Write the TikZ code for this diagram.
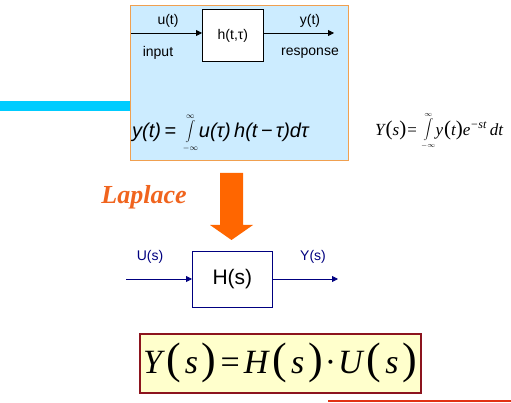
\documentclass[tikz,border=0pt]{standalone}
\usepackage{fontspec}
\setmainfont{Liberation Sans}
\newfontfamily\tnr{Liberation Serif}
\usetikzlibrary{arrows.meta}
\definecolor{panelblue}{RGB}{204,236,255}
\definecolor{panelorange}{RGB}{240,160,80}
\definecolor{barcyan}{RGB}{0,204,255}
\definecolor{lapor}{RGB}{240,100,30}
\definecolor{arrowor}{RGB}{255,102,0}
\definecolor{navyline}{RGB}{0,0,128}
\definecolor{boxyellow}{RGB}{255,255,204}
\definecolor{boxred}{RGB}{140,20,30}
\definecolor{linered}{RGB}{225,50,20}
\newcommand{\bigpar}[1]{{\upshape\fontsize{44}{46}\selectfont #1}}
\newcommand{\midpar}[1]{{\upshape\fontsize{21}{22}\selectfont #1}}
\tikzset{
  sig/.style={-{Triangle[length=6pt,width=6pt]}, line width=0.8pt},
  lbl/.style={font=\fontsize{14}{16}\selectfont, inner sep=0pt},
  blk/.style={draw, line width=0.8pt, inner sep=0pt},
  piece/.style={inner sep=0pt, anchor=west},
  lim/.style={inner sep=0pt, font=\fontsize{8}{9}\selectfont},
}
\begin{document}
\begin{tikzpicture}[x=1pt,y=-1pt]
\useasboundingbox (0,0) rectangle (511,403);
% cyan bar
\fill[barcyan] (0,101) rectangle (131,111);
% panel
\node[draw=panelorange, fill=panelblue, line width=1pt, minimum width=218pt, minimum height=155pt, inner sep=0pt, anchor=north west] (panel) at (130,5) {};
% h box
\node[blk, fill=white, minimum width=61pt, minimum height=52pt, anchor=north west, font=\fontsize{14}{16}\selectfont] (h) at (202,9) {h(t,τ)};
\coordinate (inL) at (131,33);
\coordinate (outR) at (334,33);
\draw[sig] (inL) -- (h.west |- inL);
\draw[sig] (h.east |- outR) -- (outR);
\node[lbl] (ut) at (168,21) {u(t)};
\node[lbl] (inp) at (158,53) {input};
\node[lbl] (yt) at (310,21) {y(t)};
\node[lbl] (resp) at (310,53) {response};
% convolution equation
\node[piece, font=\fontsize{20}{22}\selectfont\itshape] (convL) at (132,132) {y(t)\,=};
\node[piece] (convI) at ([xshift=9pt]convL.east) {\fontsize{22}{24}\selectfont$\displaystyle\int$};
\node[lim, anchor=south] (convSup) at ([yshift=2pt]convI.north) {$\infty$};
\node[lim, anchor=north] (convSub) at ([yshift=-2pt]convI.south) {$-\infty$};
\node[piece, font=\fontsize{20}{22}\selectfont\itshape] (convR) at ([xshift=3pt]convI.east) {u(τ)\,h(t\,−\,τ)dτ};
% Laplace integral
\node[piece, font=\tnr\fontsize{17}{19}\selectfont\itshape] (lapL) at (375,130) {Y\kern1pt\midpar{(}s\midpar{)}\kern1pt{\upshape=}};
\node[piece] (lapI) at ([xshift=6pt]lapL.east) {\fontsize{16}{18}\selectfont$\displaystyle\int$};
\node[lim, anchor=south, font=\fontsize{7}{8}\selectfont] (lapSup) at ([yshift=2pt]lapI.north) {$\infty$};
\node[lim, anchor=north, font=\fontsize{7}{8}\selectfont] (lapSub) at ([yshift=-2pt]lapI.south) {$-\infty$};
\node[piece, font=\tnr\fontsize{17}{19}\selectfont\itshape] (lapR) at ([xshift=2pt]lapI.east) {y\kern1pt\midpar{(}t\midpar{)}e\textsuperscript{−st}\,dt};
% Laplace label
\node[inner sep=0pt, text=lapor, font=\tnr\fontsize{26}{30}\selectfont\bfseries\itshape] (lap) at (144,197) {Laplace};
% big orange arrow
\fill[arrowor] (220,173) -- (243,173) -- (243,225) -- (253,225) -- (231.5,240) -- (210,225) -- (220,225) -- cycle;
% H(s)
\node[blk, draw=navyline, fill=white, minimum width=80pt, minimum height=56pt, anchor=north west, font=\fontsize{21}{24}\selectfont] (H) at (192,251) {H(s)};
\coordinate (uin) at (126,279);
\coordinate (yout) at (338,279);
\draw[sig, navyline] (uin) -- (H.west |- uin);
\draw[sig, navyline] (H.east |- yout) -- (yout);
\node[lbl, text=navyline] (Us) at (150,257) {U(s)};
\node[lbl, text=navyline] (Ys) at (313,257) {Y(s)};
% final equation box
\node[draw=boxred, fill=boxyellow, line width=1.5pt, minimum width=281pt, minimum height=59pt, inner sep=0pt, anchor=north west] (fin) at (139,333) {};
\node[inner sep=0pt, font=\tnr\fontsize{34}{38}\selectfont] (eq) at (fin.center)
  {\itshape Y\kern4pt\bigpar{(}\kern4pt s\kern4pt\bigpar{)}\kern4pt{\upshape=}\kern4pt H\kern4pt\bigpar{(}\kern4pt s\kern4pt\bigpar{)}\kern2pt{\upshape·}\kern2pt U\kern4pt\bigpar{(}\kern4pt s\kern4pt\bigpar{)}};
% bottom line
\coordinate (bl) at (328,401);
\coordinate (br) at (511,401);
\draw[line width=2pt, linered] (bl) -- (br);
\end{tikzpicture}
\end{document}
